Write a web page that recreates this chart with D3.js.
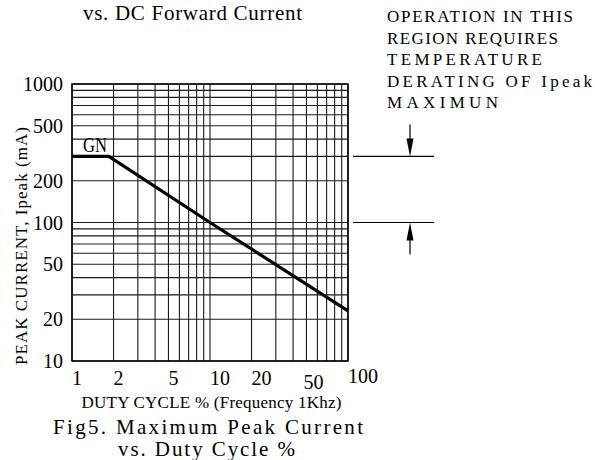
<!DOCTYPE html>
<html>
<head>
<meta charset="utf-8">
<script src="https://cdn.jsdelivr.net/npm/d3@7"></script>
<style>
  html, body { margin: 0; padding: 0; background: #fff; }
  svg { display: block; }
  text { font-family: "Liberation Serif", "DejaVu Serif", serif; fill: #000; }
</style>
</head>
<body>
<svg id="chart" width="595" height="460"></svg>
<script>
// duty cycle (%) vs max peak current (mA), GN curve
const dutyCycle = [1, 1.85, 10, 100];
const peakCurrent = [300, 300, 100, 23];
const xTickLabels = [1, 2, 5, 10, 20, 50, 100];
const yTickLabels = [10, 20, 50, 100, 200, 500, 1000];
const xGrid = [1, 2, 3, 4, 5, 6, 7, 8, 9, 10, 20, 30, 40, 50, 60, 70, 80, 90, 100];
const yGrid = [10, 20, 30, 40, 50, 60, 70, 80, 90, 100, 200, 300, 400, 500, 600, 700, 800, 900, 1000];
const deratingLevels = [300, 100];
const noteLines = ["OPERATION IN THIS", "REGION REQUIRES", "TEMPERATURE", "DERATING OF Ipeak", "MAXIMUN"];
const noteWidths = [186, 171, 155, 205, 111];

const svg = d3.select("#chart");
const plot = { left: 72, right: 348, top: 84, bottom: 361 };

const x = d3.scaleLog().domain([1, 100]).range([plot.left, plot.right]);
const y = d3.scaleLog().domain([10, 1000]).range([plot.bottom, plot.top]);

// grid
const grid = svg.append("g").attr("stroke", "#1a1a1a").attr("stroke-width", 1.1);
grid.selectAll("line.v")
  .data(xGrid)
  .join("line")
  .attr("class", "v")
  .attr("x1", (d) => x(d))
  .attr("x2", (d) => x(d))
  .attr("y1", plot.top)
  .attr("y2", plot.bottom);
grid.selectAll("line.h")
  .data(yGrid)
  .join("line")
  .attr("class", "h")
  .attr("x1", plot.left)
  .attr("x2", plot.right)
  .attr("y1", (d) => y(d))
  .attr("y2", (d) => y(d));

svg.append("rect")
  .attr("x", plot.left)
  .attr("y", plot.top)
  .attr("width", plot.right - plot.left)
  .attr("height", plot.bottom - plot.top)
  .attr("fill", "none")
  .attr("stroke", "#000")
  .attr("stroke-width", 1.5);

// tick labels
svg.append("g")
  .selectAll("text")
  .data(yTickLabels)
  .join("text")
  .attr("x", 63)
  .attr("y", (d) => y(d) + 7)
  .attr("text-anchor", "end")
  .attr("font-size", "20px")
  .text((d) => d);

svg.append("g")
  .selectAll("text")
  .data(xTickLabels)
  .join("text")
  .attr("x", (d) => x(d) + (d === 50 ? -3 : 0))
  .attr("y", (d) => (d === 50 ? 389 : d === 100 ? 383 : 385))
  .attr("text-anchor", "start")
  .attr("font-size", "20px")
  .text((d) => d);

// curve
const line = d3.line().x((d) => x(d[0])).y((d) => y(d[1]));
svg.append("path")
  .datum(d3.zip(dutyCycle, peakCurrent))
  .attr("d", line)
  .attr("fill", "none")
  .attr("stroke", "#000")
  .attr("stroke-width", 3.2);

svg.append("text")
  .attr("x", 83)
  .attr("y", 151.5)
  .attr("font-size", "21px")
  .attr("textLength", 24)
  .attr("lengthAdjust", "spacingAndGlyphs")
  .text("GN");

// derating annotation
const ann = svg.append("g").attr("stroke", "#000").attr("stroke-width", 1.2);
ann.selectAll("line")
  .data(deratingLevels)
  .join("line")
  .attr("x1", 353)
  .attr("x2", 434)
  .attr("y1", (d) => y(d))
  .attr("y2", (d) => y(d));

const ax = 410;
const yTop = y(deratingLevels[0]);
const yBot = y(deratingLevels[1]);
ann.append("line").attr("x1", ax).attr("x2", ax).attr("y1", yTop - 32).attr("y2", yTop - 14);
ann.append("line").attr("x1", ax).attr("x2", ax).attr("y1", yBot + 14).attr("y2", yBot + 32);
svg.append("path")
  .attr("d", `M${ax - 3.5},${yTop - 18}L${ax + 3.5},${yTop - 18}L${ax},${yTop}Z`)
  .attr("fill", "#000");
svg.append("path")
  .attr("d", `M${ax - 3.5},${yBot + 18}L${ax + 3.5},${yBot + 18}L${ax},${yBot}Z`)
  .attr("fill", "#000");

svg.append("g")
  .selectAll("text")
  .data(noteLines)
  .join("text")
  .attr("x", 387)
  .attr("y", (d, i) => 22 + i * 21.6)
  .attr("font-size", "17px")
  .attr("textLength", (d, i) => noteWidths[i])
  .attr("lengthAdjust", "spacing")
  .text((d) => d);

// titles
const addText = (str, cx, by, size, w) =>
  svg.append("text")
    .attr("x", cx)
    .attr("y", by)
    .attr("text-anchor", "middle")
    .attr("font-size", size)
    .attr("textLength", w)
    .attr("lengthAdjust", "spacing")
    .text(str);

addText("vs. DC Forward Current", 192.5, 19.5, "21px", 219);
addText("DUTY CYCLE % (Frequency 1Khz)", 211.5, 408, "17px", 260);
addText("Fig5. Maximum Peak Current", 208, 434, "21px", 310);
addText("vs. Duty Cycle %", 206.5, 456, "21px", 177);

svg.append("text")
  .attr("transform", "translate(27,246) rotate(-90)")
  .attr("text-anchor", "middle")
  .attr("font-size", "17px")
  .attr("textLength", 238)
  .attr("lengthAdjust", "spacing")
  .text("PEAK CURRENT, Ipeak (mA)");
</script>
</body>
</html>
